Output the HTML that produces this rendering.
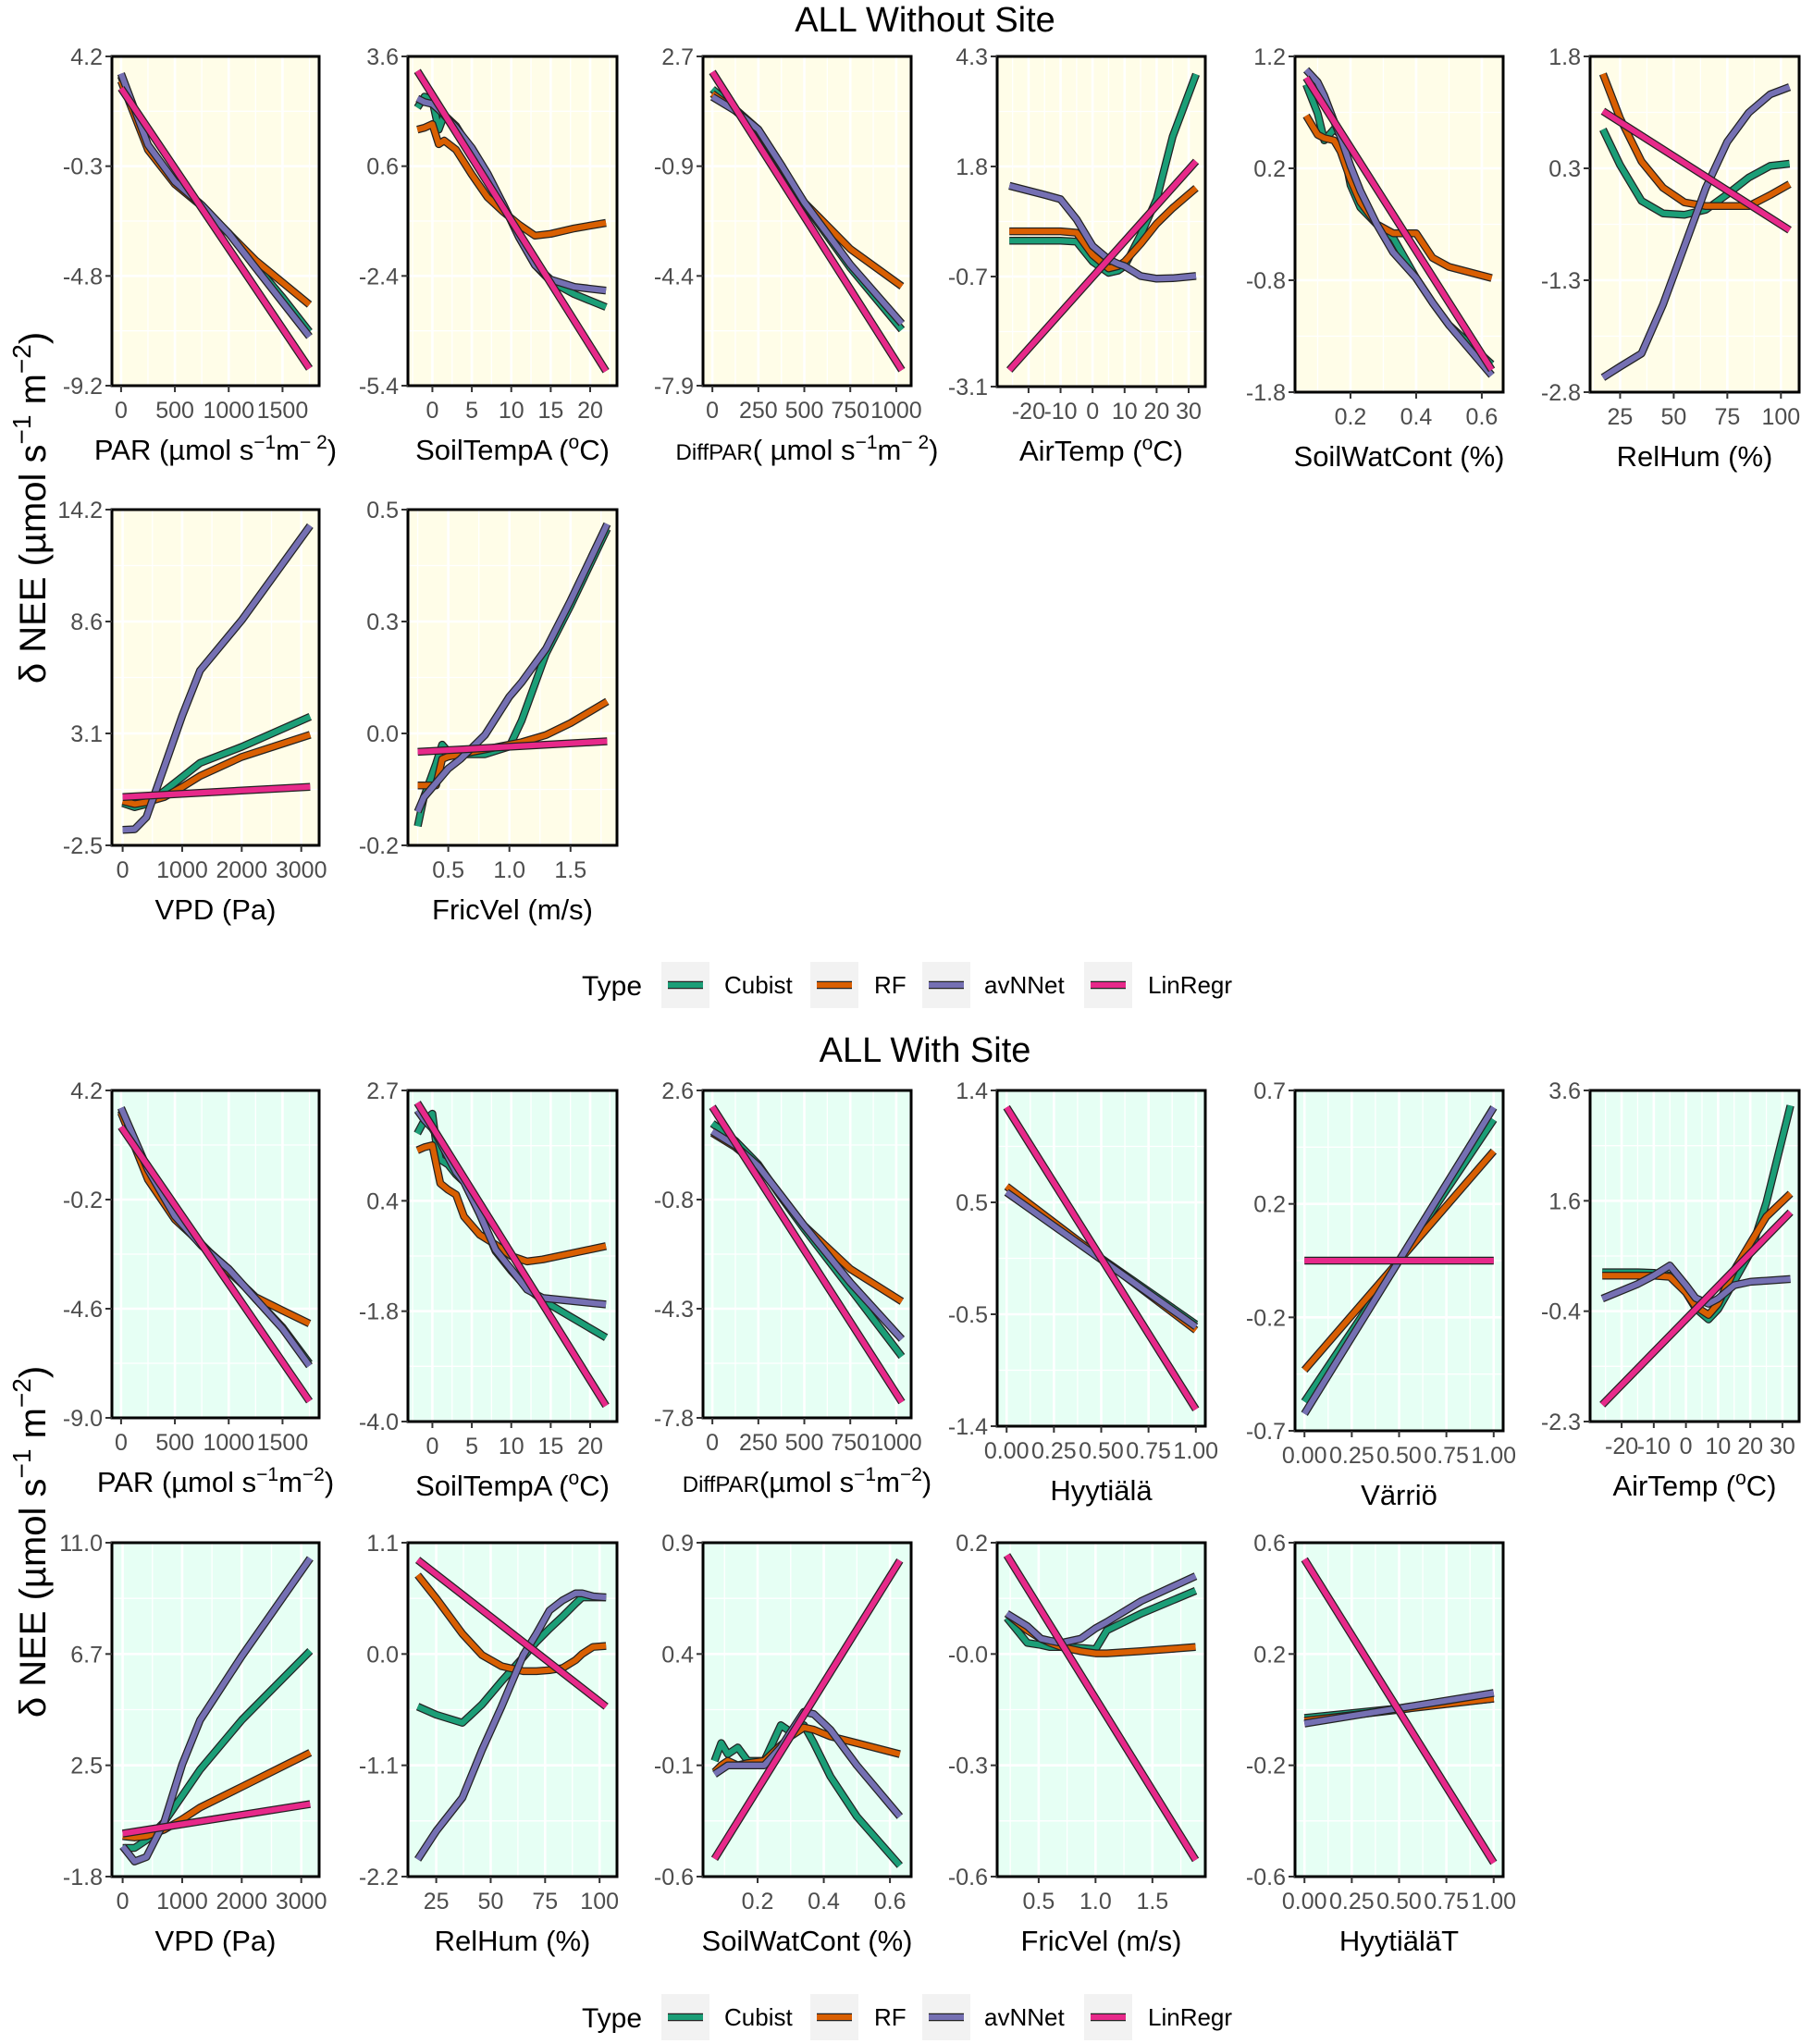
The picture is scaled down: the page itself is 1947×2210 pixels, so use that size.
<!DOCTYPE html>
<html><head><meta charset="utf-8"><style>
html,body{margin:0;padding:0;background:#fff;}
svg{display:block;font-family:"Liberation Sans",Arial,sans-serif;}
</style></head><body>
<svg id="chart" width="1947" height="2210" viewBox="0 0 1947 2210" xmlns="http://www.w3.org/2000/svg">
<text x="1000" y="34" font-size="38" text-anchor="middle">ALL Without Site</text>
<text x="1000" y="1148" font-size="38" text-anchor="middle">ALL With Site</text>
<text transform="translate(49,549) rotate(-90)" font-size="40" text-anchor="middle">δ NEE (µmol s<tspan dy="-16" font-size="28">−1</tspan><tspan dy="16"> m</tspan><tspan dy="-16" font-size="28">−2</tspan><tspan dy="16">)</tspan></text>
<text transform="translate(49,1667) rotate(-90)" font-size="40" text-anchor="middle">δ NEE (µmol s<tspan dy="-16" font-size="28">−1</tspan><tspan dy="16"> m</tspan><tspan dy="-16" font-size="28">−2</tspan><tspan dy="16">)</tspan></text>
<g id="panels"></g>
<g id="legends"></g>
</svg>
<script>
// ===== data: Section 1 (ALL Without Site) =====
const s1par_x=[0,250,500,750,1000,1250,1500,1750];
const s1par_cub=[3.4,0.5,-0.95,-1.9,-3.0,-4.3,-5.6,-7.0];
const s1par_rf=[3.2,0.4,-1.0,-1.9,-3.0,-4.1,-5.0,-5.9];
const s1par_nn=[3.5,0.6,-0.9,-1.85,-3.0,-4.4,-5.8,-7.2];
const s1par_lrx=[0,1750];const s1par_lr=[2.9,-8.5];

const s1st_x=[-1.9,-1,0,0.8,1.5,3,5,7,9,11,13,15,18,22];
const s1st_cub=[2.2,2.5,2.4,1.6,2.0,1.7,1.0,0.35,-0.45,-1.35,-2.1,-2.55,-2.9,-3.25];
const s1st_rf=[1.6,1.65,1.75,1.2,1.3,1.05,0.37,-0.25,-0.65,-1.0,-1.3,-1.25,-1.1,-0.95];
const s1st_nn=[2.45,2.35,2.3,2.15,2.0,1.65,1.1,0.4,-0.45,-1.35,-2.1,-2.5,-2.7,-2.8];
const s1st_lrx=[-1.9,22];const s1st_lr=[3.2,-5.0];

const s1dp_x=[0,125,250,375,500,750,1030];
const s1dp_cub=[1.65,1.0,0.35,-0.8,-2.05,-4.1,-6.1];
const s1dp_rf=[1.5,0.95,0.3,-0.85,-2.0,-3.5,-4.7];
const s1dp_nn=[1.4,0.95,0.35,-0.8,-2.0,-4.0,-5.9];
const s1dp_lrx=[0,1030];const s1dp_lr=[2.2,-7.4];

const s1at_x=[-26,-15,-10,-5,0,5,8,10,15,20,25,32.3];
const s1at_cub=[0.17,0.17,0.17,0.15,-0.3,-0.55,-0.5,-0.4,0.3,1.1,2.5,3.9];
const s1at_rf=[0.38,0.38,0.38,0.35,-0.15,-0.45,-0.4,-0.3,0.1,0.55,0.9,1.35];
const s1at_nn=[1.4,1.2,1.1,0.65,0.05,-0.25,-0.35,-0.4,-0.62,-0.68,-0.67,-0.62];
const s1at_lrx=[-26,32.3];const s1at_lr=[-2.73,1.95];

const s1sw_x=[0.065,0.1,0.12,0.15,0.17,0.2,0.23,0.28,0.33,0.4,0.45,0.5,0.63];
const s1sw_cub=[0.95,0.69,0.45,0.55,0.5,0.05,-0.15,-0.3,-0.42,-0.78,-1.0,-1.2,-1.55];
const s1sw_rf=[0.67,0.5,0.47,0.45,0.35,0.1,-0.1,-0.3,-0.38,-0.38,-0.6,-0.68,-0.78];
const s1sw_nn=[1.08,0.97,0.85,0.62,0.48,0.22,0.0,-0.3,-0.55,-0.78,-1.0,-1.2,-1.65];
const s1sw_lrx=[0.065,0.63];const s1sw_lr=[1.01,-1.6];

const s1rh_x=[17,25,35,45,55,65,75,85,95,104];
const s1rh_cub=[0.8,0.31,-0.18,-0.35,-0.37,-0.3,-0.09,0.14,0.3,0.33];
const s1rh_rf=[1.56,0.95,0.36,0.0,-0.2,-0.25,-0.25,-0.25,-0.1,0.05];
const s1rh_nn=[-2.6,-2.45,-2.27,-1.6,-0.8,0.0,0.63,1.03,1.28,1.38];
const s1rh_lrx=[17,104];const s1rh_lr=[1.05,-0.58];

const s1vpd_x=[0,200,400,700,1000,1300,2000,3150];
const s1vpd_cub=[-0.4,-0.6,-0.45,0.2,0.9,1.6,2.4,3.9];
const s1vpd_rf=[-0.3,-0.45,-0.35,-0.1,0.4,0.95,1.9,3.0];
const s1vpd_nn=[-1.73,-1.7,-1.1,1.4,3.95,6.2,8.7,13.4];
const s1vpd_lrx=[0,3150];const s1vpd_lr=[-0.1,0.41];

const s1fv_x=[0.25,0.3,0.4,0.45,0.5,0.6,0.8,1.0,1.1,1.3,1.5,1.8];
const s1fv_cub=[-0.16,-0.1,-0.03,0.01,-0.005,-0.01,-0.01,0.006,0.06,0.2,0.3,0.46];
const s1fv_rf=[-0.075,-0.075,-0.075,-0.02,-0.015,-0.01,0.0,0.01,0.015,0.03,0.055,0.1];
const s1fv_nn=[-0.13,-0.1,-0.07,-0.055,-0.04,-0.02,0.03,0.11,0.14,0.21,0.31,0.47];
const s1fv_lrx=[0.25,1.8];const s1fv_lr=[-0.005,0.017];

// ===== data: Section 2 (ALL With Site) =====
const s2par_x=[0,250,500,750,1000,1250,1500,1750];
const s2par_cub=[3.4,0.9,-0.9,-2.05,-3.0,-4.2,-5.35,-6.8];
const s2par_rf=[3.3,0.6,-1.0,-2.0,-3.1,-4.13,-4.67,-5.2];
const s2par_nn=[3.5,1.0,-0.87,-2.07,-3.0,-4.2,-5.4,-6.9];
const s2par_lrx=[0,1750];const s2par_lr=[2.73,-8.33];

const s2st_x=[-1.9,-1,0,0.5,1,2,3,4,6,8,10,12,14,22];
const s2st_cub=[1.83,2.1,2.23,1.6,1.3,1.2,1.0,0.85,0.2,-0.55,-0.95,-1.3,-1.55,-2.3];
const s2st_rf=[1.49,1.55,1.59,1.2,0.82,0.69,0.59,0.15,-0.22,-0.42,-0.65,-0.76,-0.72,-0.45];
const s2st_nn=[2.3,2.1,1.93,1.8,1.65,1.35,1.05,0.85,0.2,-0.52,-0.92,-1.33,-1.5,-1.63];
const s2st_lrx=[-1.9,22];const s2st_lr=[2.45,-3.68];

const s2dp_x=[0,125,250,375,500,750,1030];
const s2dp_cub=[1.55,1.0,0.25,-0.8,-1.8,-3.7,-5.85];
const s2dp_rf=[1.25,0.8,0.2,-0.75,-1.7,-3.07,-4.1];
const s2dp_nn=[1.3,0.85,0.2,-0.75,-1.7,-3.5,-5.3];
const s2dp_lrx=[0,1030];const s2dp_lr=[2.08,-7.3];

const s2hy_x=[0,1];
const s2hy_cub=[0.55,-0.55];const s2hy_rf=[0.6,-0.6];const s2hy_nn=[0.55,-0.57];
const s2hy_lrx=[0,1];const s2hy_lr=[1.26,-1.26];

const s2va_x=[0,1];
const s2va_cub=[-0.58,0.58];const s2va_rf=[-0.45,0.45];const s2va_nn=[-0.63,0.63];
const s2va_lrx=[0,1];const s2va_lr=[0,0];

const s2at_x=[-26,-15,-10,-5,0,3,7,10,15,20,25,32.5];
const s2at_cub=[0.36,0.36,0.35,0.3,0.0,-0.28,-0.48,-0.3,0.2,0.71,1.6,3.33];
const s2at_rf=[0.3,0.3,0.3,0.28,0.0,-0.25,-0.4,-0.2,0.4,0.88,1.35,1.76];
const s2at_nn=[-0.11,0.15,0.3,0.48,0.13,-0.1,-0.2,-0.11,0.13,0.19,0.21,0.24];
const s2at_lrx=[-26,32.5];const s2at_lr=[-2.0,1.43];

const s2vpd_x=[0,200,400,700,1000,1300,2000,3150];
const s2vpd_cub=[-0.7,-0.7,-0.4,0.3,1.3,2.3,4.2,6.85];
const s2vpd_rf=[-0.25,-0.3,-0.25,0.0,0.4,0.85,1.64,2.95];
const s2vpd_nn=[-0.64,-1.22,-1.05,0.3,2.5,4.2,6.65,10.4];
const s2vpd_lrx=[0,3150];const s2vpd_lr=[-0.15,0.98];

const s2rh_x=[16.5,25,37,46,55,65,71,77,83,89,92,97,103];
const s2rh_cub=[-0.52,-0.6,-0.68,-0.5,-0.27,-0.03,0.12,0.25,0.37,0.5,0.56,0.56,0.56];
const s2rh_rf=[0.78,0.55,0.2,-0.01,-0.12,-0.17,-0.17,-0.16,-0.14,-0.06,0.0,0.07,0.08];
const s2rh_nn=[-2.03,-1.75,-1.42,-0.95,-0.52,-0.01,0.2,0.43,0.53,0.6,0.6,0.57,0.56];
const s2rh_lrx=[16.5,103];const s2rh_lr=[0.93,-0.52];

const s2sw_x=[0.07,0.09,0.11,0.14,0.17,0.22,0.27,0.3,0.34,0.37,0.42,0.5,0.63];
const s2sw_cub=[-0.08,0.0,-0.05,-0.02,-0.08,-0.08,0.08,0.05,0.08,0.0,-0.15,-0.33,-0.55];
const s2sw_rf=[-0.13,-0.1,-0.08,-0.1,-0.09,-0.08,-0.01,0.03,0.07,0.06,0.03,0.0,-0.05];
const s2sw_nn=[-0.14,-0.12,-0.1,-0.1,-0.1,-0.1,-0.02,0.05,0.14,0.13,0.06,-0.1,-0.33];
const s2sw_lrx=[0.07,0.63];const s2sw_lr=[-0.52,0.82];

const s2fv_x=[0.22,0.4,0.52,0.6,0.7,0.87,1.0,1.1,1.4,1.88];
const s2fv_cub=[0.02,-0.04,-0.045,-0.05,-0.05,-0.052,-0.055,-0.01,0.03,0.085];
const s2fv_rf=[0.03,-0.01,-0.03,-0.04,-0.05,-0.06,-0.065,-0.065,-0.06,-0.05];
const s2fv_nn=[0.03,0.0,-0.03,-0.035,-0.04,-0.03,-0.005,0.01,0.06,0.12];
const s2fv_lrx=[0.22,1.88];const s2fv_lr=[0.17,-0.56];

const s2ht_x=[0,1];
const s2ht_cub=[-0.03,0.04];const s2ht_rf=[-0.04,0.04];const s2ht_nn=[-0.05,0.06];
const s2ht_lrx=[0,1];const s2ht_lr=[0.54,-0.55];

// ===== tick labels =====
const yt_s1par=["4.2","-0.3","-4.8","-9.2"], yt_s1st=["3.6","0.6","-2.4","-5.4"], yt_s1dp=["2.7","-0.9","-4.4","-7.9"];
const yt_s1at=["4.3","1.8","-0.7","-3.1"], yt_s1sw=["1.2","0.2","-0.8","-1.8"], yt_s1rh=["1.8","0.3","-1.3","-2.8"];
const yt_s1vpd=["14.2","8.6","3.1","-2.5"], yt_s1fv=["0.5","0.3","0.0","-0.2"];
const yt_s2par=["4.2","-0.2","-4.6","-9.0"], yt_s2st=["2.7","0.4","-1.8","-4.0"], yt_s2dp=["2.6","-0.8","-4.3","-7.8"];
const yt_s2hy=["1.4","0.5","-0.5","-1.4"], yt_s2va=["0.7","0.2","-0.2","-0.7"], yt_s2at=["3.6","1.6","-0.4","-2.3"];
const yt_s2vpd=["11.0","6.7","2.5","-1.8"], yt_s2rh=["1.1","0.0","-1.1","-2.2"], yt_s2sw=["0.9","0.4","-0.1","-0.6"];
const yt_s2fv=["0.2","-0.0","-0.3","-0.6"], yt_s2ht=["0.6","0.2","-0.2","-0.6"];
const xt_par=[0,500,1000,1500], xt_st=[0,5,10,15,20], xt_dp=[0,250,500,750,1000], xt_at=[-20,-10,0,10,20,30];
const xt_sw=[0.2,0.4,0.6], xt_rh=[25,50,75,100], xt_vpd=[0,1000,2000,3000], xt_fv=[0.5,1.0,1.5], xt_01=[0,0.25,0.5,0.75,1];
const xl_par=["0","500","1000","1500"], xl_st=["0","5","10","15","20"], xl_dp=["0","250","500","750","1000"];
const xl_at=["-20","-10","0","10","20","30"], xl_sw=["0.2","0.4","0.6"], xl_rh=["25","50","75","100"];
const xl_vpd=["0","1000","2000","3000"], xl_fv=["0.5","1.0","1.5"], xl_01=["0.00","0.25","0.50","0.75","1.00"];

const COLORS={cub:"#1B9E77",rf:"#D95F02",nn:"#7570B3",lr:"#E7298A"};
const L=[121,441,760,1078,1400,1719], R=[345,667,985,1303,1625,1945];
const sup=(t)=>'<tspan dy="-12" font-size="21">'+t+'</tspan>';
const T_PAR='PAR (µmol s'+sup('−1')+'<tspan dy="12">m</tspan>'+sup('− 2')+'<tspan dy="12">)</tspan>';
const T_PAR2='PAR (µmol s'+sup('−1')+'<tspan dy="12">m</tspan>'+sup('−2')+'<tspan dy="12">)</tspan>';
const T_ST='SoilTempA ('+sup('o')+'<tspan dy="12">C)</tspan>';
const T_AT='AirTemp ('+sup('o')+'<tspan dy="12">C)</tspan>';
const T_DP='<tspan font-size="24">DiffPAR</tspan>( µmol s'+sup('−1')+'<tspan dy="12">m</tspan>'+sup('− 2')+'<tspan dy="12">)</tspan>';
const T_DP2='<tspan font-size="24">DiffPAR</tspan>(µmol s'+sup('−1')+'<tspan dy="12">m</tspan>'+sup('−2')+'<tspan dy="12">)</tspan>';

const BG1="#FFFDE8", BG2="#E6FFF4";
const panels=[
 {n:"s1-par",c:0,t:61,b:417,bg:BG1,xl:[-85,1840],yl:[-9.2,4.2],xt:xt_par,xtl:xl_par,yt:yt_s1par,title:T_PAR,x:s1par_x,cub:s1par_cub,rf:s1par_rf,nn:s1par_nn,lrx:s1par_lrx,lr:s1par_lr},
 {n:"s1-soiltemp",c:1,t:61,b:417,bg:BG1,xl:[-3.1,23.4],yl:[-5.4,3.6],xt:xt_st,xtl:xl_st,yt:yt_s1st,title:T_ST,x:s1st_x,cub:s1st_cub,rf:s1st_rf,nn:s1st_nn,lrx:s1st_lrx,lr:s1st_lr},
 {n:"s1-diffpar",c:2,t:61,b:417,bg:BG1,xl:[-51,1081],yl:[-7.9,2.7],xt:xt_dp,xtl:xl_dp,yt:yt_s1dp,title:T_DP,x:s1dp_x,cub:s1dp_cub,rf:s1dp_rf,nn:s1dp_nn,lrx:s1dp_lrx,lr:s1dp_lr},
 {n:"s1-airtemp",c:3,t:61,b:418,bg:BG1,xl:[-29.8,35.2],yl:[-3.1,4.3],xt:xt_at,xtl:xl_at,yt:yt_s1at,title:T_AT,x:s1at_x,cub:s1at_cub,rf:s1at_rf,nn:s1at_nn,lrx:s1at_lrx,lr:s1at_lr},
 {n:"s1-soilwatcont",c:4,t:61,b:424,bg:BG1,xl:[0.031,0.665],yl:[-1.8,1.2],xt:xt_sw,xtl:xl_sw,yt:yt_s1sw,title:"SoilWatCont (%)",x:s1sw_x,cub:s1sw_cub,rf:s1sw_rf,nn:s1sw_nn,lrx:s1sw_lrx,lr:s1sw_lr},
 {n:"s1-relhum",c:5,t:61,b:424,bg:BG1,xl:[11,108.5],yl:[-2.8,1.8],xt:xt_rh,xtl:xl_rh,yt:yt_s1rh,title:"RelHum (%)",x:s1rh_x,cub:s1rh_cub,rf:s1rh_rf,nn:s1rh_nn,lrx:s1rh_lrx,lr:s1rh_lr},
 {n:"s1-vpd",c:0,t:551,b:914,bg:BG1,xl:[-180,3300],yl:[-2.5,14.2],xt:xt_vpd,xtl:xl_vpd,yt:yt_s1vpd,title:"VPD (Pa)",x:s1vpd_x,cub:s1vpd_cub,rf:s1vpd_rf,nn:s1vpd_nn,lrx:s1vpd_lrx,lr:s1vpd_lr},
 {n:"s1-fricvel",c:1,t:551,b:914,bg:BG1,xl:[0.17,1.88],yl:[-0.2,0.5],xt:xt_fv,xtl:xl_fv,yt:yt_s1fv,title:"FricVel (m/s)",x:s1fv_x,cub:s1fv_cub,rf:s1fv_rf,nn:s1fv_nn,lrx:s1fv_lrx,lr:s1fv_lr},
 {n:"s2-par",c:0,t:1179,b:1533,bg:BG2,xl:[-85,1840],yl:[-9.0,4.2],xt:xt_par,xtl:xl_par,yt:yt_s2par,title:T_PAR2,x:s2par_x,cub:s2par_cub,rf:s2par_rf,nn:s2par_nn,lrx:s2par_lrx,lr:s2par_lr},
 {n:"s2-soiltemp",c:1,t:1179,b:1537,bg:BG2,xl:[-3.1,23.4],yl:[-4.0,2.7],xt:xt_st,xtl:xl_st,yt:yt_s2st,title:T_ST,x:s2st_x,cub:s2st_cub,rf:s2st_rf,nn:s2st_nn,lrx:s2st_lrx,lr:s2st_lr},
 {n:"s2-diffpar",c:2,t:1179,b:1533,bg:BG2,xl:[-51,1081],yl:[-7.8,2.6],xt:xt_dp,xtl:xl_dp,yt:yt_s2dp,title:T_DP2,x:s2dp_x,cub:s2dp_cub,rf:s2dp_rf,nn:s2dp_nn,lrx:s2dp_lrx,lr:s2dp_lr},
 {n:"s2-hyytiala",c:3,t:1179,b:1542,bg:BG2,xl:[-0.05,1.05],yl:[-1.4,1.4],xt:xt_01,xtl:xl_01,yt:yt_s2hy,title:"Hyytiälä",x:s2hy_x,cub:s2hy_cub,rf:s2hy_rf,nn:s2hy_nn,lrx:s2hy_lrx,lr:s2hy_lr},
 {n:"s2-varrio",c:4,t:1179,b:1547,bg:BG2,xl:[-0.05,1.05],yl:[-0.7,0.7],xt:xt_01,xtl:xl_01,yt:yt_s2va,title:"Värriö",x:s2va_x,cub:s2va_cub,rf:s2va_rf,nn:s2va_nn,lrx:s2va_lrx,lr:s2va_lr},
 {n:"s2-airtemp",c:5,t:1179,b:1537,bg:BG2,xl:[-29.8,35.2],yl:[-2.3,3.6],xt:xt_at,xtl:xl_at,yt:yt_s2at,title:T_AT,x:s2at_x,cub:s2at_cub,rf:s2at_rf,nn:s2at_nn,lrx:s2at_lrx,lr:s2at_lr},
 {n:"s2-vpd",c:0,t:1668,b:2029,bg:BG2,xl:[-180,3300],yl:[-1.8,11.0],xt:xt_vpd,xtl:xl_vpd,yt:yt_s2vpd,title:"VPD (Pa)",x:s2vpd_x,cub:s2vpd_cub,rf:s2vpd_rf,nn:s2vpd_nn,lrx:s2vpd_lrx,lr:s2vpd_lr},
 {n:"s2-relhum",c:1,t:1668,b:2029,bg:BG2,xl:[12,108],yl:[-2.2,1.1],xt:xt_rh,xtl:xl_rh,yt:yt_s2rh,title:"RelHum (%)",x:s2rh_x,cub:s2rh_cub,rf:s2rh_rf,nn:s2rh_nn,lrx:s2rh_lrx,lr:s2rh_lr},
 {n:"s2-soilwatcont",c:2,t:1668,b:2029,bg:BG2,xl:[0.035,0.664],yl:[-0.6,0.9],xt:xt_sw,xtl:xl_sw,yt:yt_s2sw,title:"SoilWatCont (%)",x:s2sw_x,cub:s2sw_cub,rf:s2sw_rf,nn:s2sw_nn,lrx:s2sw_lrx,lr:s2sw_lr},
 {n:"s2-fricvel",c:3,t:1668,b:2029,bg:BG2,xl:[0.135,1.965],yl:[-0.6,0.2],xt:xt_fv,xtl:xl_fv,yt:yt_s2fv,title:"FricVel (m/s)",x:s2fv_x,cub:s2fv_cub,rf:s2fv_rf,nn:s2fv_nn,lrx:s2fv_lrx,lr:s2fv_lr},
 {n:"s2-hyytialat",c:4,t:1668,b:2029,bg:BG2,xl:[-0.05,1.05],yl:[-0.6,0.6],xt:xt_01,xtl:xl_01,yt:yt_s2ht,title:"HyytiäläT",x:s2ht_x,cub:s2ht_cub,rf:s2ht_rf,nn:s2ht_nn,lrx:s2ht_lrx,lr:s2ht_lr}
];

const NS="http://www.w3.org/2000/svg";
function mk(tag,attrs,parent){const e=document.createElementNS(NS,tag);for(const k in attrs)e.setAttribute(k,attrs[k]);parent.appendChild(e);return e;}
const root=document.getElementById('panels');
const defs=mk('defs',{},root);

panels.forEach((p,i)=>{
  const l=L[p.c], r=R[p.c], t=p.t, b=p.b;
  const sx=v=>l+(v-p.xl[0])/(p.xl[1]-p.xl[0])*(r-l);
  const sy=v=>b-(v-p.yl[0])/(p.yl[1]-p.yl[0])*(b-t);
  const g=mk('g',{},root);
  
  
  const cp=mk('clipPath',{id:'clip'+i},defs);
  mk('rect',{x:l,y:t,width:r-l,height:b-t},cp);
  const bg=mk('rect',{x:l,y:t,width:r-l,height:b-t,fill:p.bg},g);
  
  
  const n=p.yt.length, yStep=(b-t)/(n-1);
  for(let k=0;k<n-1;k++){
    const yy=t+yStep*(k+0.5);
    mk('line',{x1:l,x2:r,y1:yy,y2:yy,stroke:'#fff','stroke-width':1.3},g);
  }
  for(let k=0;k<n;k++){
    const yy=t+yStep*k;
    mk('line',{x1:l,x2:r,y1:yy,y2:yy,stroke:'#fff','stroke-width':2.6},g);
  }
  const st=p.xt[1]-p.xt[0];
  for(let v=p.xt[0]-st/2;v<=p.xl[1];v+=st){ if(v>=p.xl[0]){const xx=sx(v);mk('line',{x1:xx,x2:xx,y1:t,y2:b,stroke:'#fff','stroke-width':1.3},g);} }
  p.xt.forEach(v=>{const xx=sx(v);mk('line',{x1:xx,x2:xx,y1:t,y2:b,stroke:'#fff','stroke-width':2.6},g);});
  const lg=mk('g',{'clip-path':'url(#clip'+i+')'},g);
  [['cub',p.x,p.cub,'Cubist'],['rf',p.x,p.rf,'RF'],['nn',p.x,p.nn,'avNNet'],['lr',p.lrx,p.lr,'LinRegr']].forEach(s=>{
    const d=s[1].map((xv,j)=>(j?'L':'M')+sx(xv).toFixed(1)+','+sy(s[2][j]).toFixed(1)).join('');
    mk('path',{d:d,fill:'none',stroke:'#222','stroke-width':8.5,'stroke-linejoin':'round','stroke-linecap':'butt'},lg);
    const ln=mk('path',{d:d,fill:'none',stroke:COLORS[s[0]],'stroke-width':6,'stroke-linejoin':'round','stroke-linecap':'butt'},lg);
    
    
  });
  const border=mk('rect',{x:l,y:t,width:r-l,height:b-t,fill:'none',stroke:'#000','stroke-width':3},g);
  
  
  p.yt.forEach((lab,k)=>{
    const yy=t+yStep*k;
    mk('line',{x1:l-7,x2:l,y1:yy,y2:yy,stroke:'#333','stroke-width':2},g);
    const tx=mk('text',{x:l-10,y:yy+9,'font-size':25,fill:'#4D4D4D','text-anchor':'end'},g);
    tx.textContent=lab;
    
    
  });
  p.xt.forEach((v,k)=>{
    const xx=sx(v);
    mk('line',{x1:xx,x2:xx,y1:b,y2:b+7,stroke:'#333','stroke-width':2},g);
    const tx=mk('text',{x:xx,y:b+35,'font-size':25,fill:'#4D4D4D','text-anchor':'middle'},g);
    tx.textContent=p.xtl[k];
    
    
  });
  const ti=mk('text',{x:(l+r)/2,y:b+80,'font-size':31,fill:'#000','text-anchor':'middle'},g);
  ti.innerHTML=p.title;
  
  
});

const legRoot=document.getElementById('legends');
const legendItems=[['Cubist','cub',715,783],['RF','rf',876,945],['avNNet','nn',997,1064],['LinRegr','lr',1172,1241]];
[1065,2181].forEach((cy,li)=>{
  const g=mk('g',{},legRoot);
  
  
  const tt=mk('text',{x:629,y:cy+11,'font-size':30,fill:'#000'},g);
  tt.textContent='Type';
  
  
  legendItems.forEach(it=>{
    const eg=mk('g',{},g);
    
    
    mk('rect',{x:it[2],y:cy-25,width:52,height:50,fill:'#F2F2F2'},eg);
    mk('line',{x1:it[2]+7,x2:it[2]+45,y1:cy,y2:cy,stroke:'#222','stroke-width':8.5},eg);
    mk('line',{x1:it[2]+7,x2:it[2]+45,y1:cy,y2:cy,stroke:COLORS[it[1]],'stroke-width':6},eg);
    const lt=mk('text',{x:it[3],y:cy+9,'font-size':26,fill:'#000'},eg);
    lt.textContent=it[0];
  });
});
</script>
</body></html>
